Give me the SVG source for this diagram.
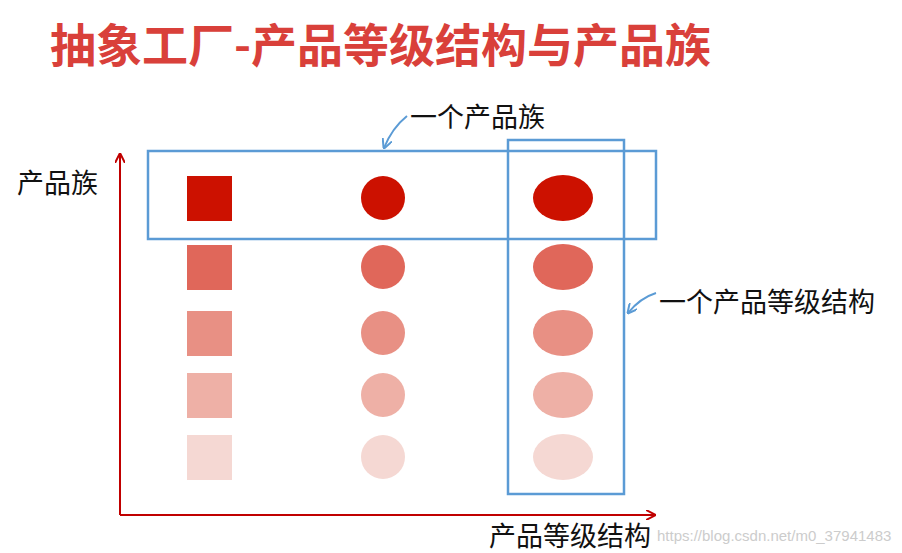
<svg xmlns="http://www.w3.org/2000/svg" width="902" height="553" viewBox="0 0 902 553">
<defs>
<style>
.t{font-family:"Noto Sans CJK SC","Noto Sans",sans-serif;fill:#111;font-size:27px}
.box{fill:none;stroke:#5B9BD5;stroke-width:2.5}
.r1{fill:#CC1100}.r2{fill:#E0675A}.r3{fill:#E89084}.r4{fill:#EEB0A6}.r5{fill:#F5D8D3}
</style>
<marker id="ra" viewBox="0 0 10 10" refX="9" refY="5" markerWidth="5" markerHeight="5" orient="auto"><path d="M0,0 L10,5 L0,10" fill="none" stroke="#C00000" stroke-width="2"/></marker>
<marker id="ba" viewBox="0 0 10 10" refX="9" refY="5" markerWidth="5" markerHeight="5" orient="auto"><path d="M0,0 L10,5 L0,10" fill="none" stroke="#5B9BD5" stroke-width="2"/></marker>
</defs>
<rect width="902" height="553" fill="#fff"/>
<text x="50" y="62" font-family="Noto Sans CJK SC,sans-serif" font-weight="bold" font-size="46" fill="#D9403A">抽象工厂-产品等级结构与产品族</text>
<g id="shapes">
<rect class="r1" x="187" y="176" width="45" height="45"/><circle class="r1" cx="383" cy="198" r="22"/><ellipse class="r1" cx="563" cy="198" rx="30" ry="23"/>
<rect class="r2" x="187" y="245" width="45" height="45"/><circle class="r2" cx="383" cy="267" r="22"/><ellipse class="r2" cx="563" cy="267" rx="30" ry="23"/>
<rect class="r3" x="187" y="311" width="45" height="45"/><circle class="r3" cx="383" cy="333" r="22"/><ellipse class="r3" cx="563" cy="333" rx="30" ry="23"/>
<rect class="r4" x="187" y="373" width="45" height="45"/><circle class="r4" cx="383" cy="395" r="22"/><ellipse class="r4" cx="563" cy="395" rx="30" ry="23"/>
<rect class="r5" x="187" y="435" width="45" height="45"/><circle class="r5" cx="383" cy="457" r="22"/><ellipse class="r5" cx="563" cy="457" rx="30" ry="23"/>
</g>
<g id="family"><rect class="box" x="148" y="151" width="508" height="88"/></g>
<g id="level"><rect class="box" x="508" y="140" width="116" height="354"/></g>
<g id="connectors">
<line x1="120" y1="515" x2="120" y2="154" stroke="#C00000" stroke-width="2" marker-end="url(#ra)"/>
<line x1="120" y1="515" x2="655" y2="515" stroke="#C00000" stroke-width="2" marker-end="url(#ra)"/>
<path d="M407,116 Q392,128 384,148" fill="none" stroke="#5B9BD5" stroke-width="2" marker-end="url(#ba)"/>
<path d="M656,293 Q640,298 628,313" fill="none" stroke="#5B9BD5" stroke-width="2" marker-end="url(#ba)"/>
</g>
<text class="t" x="17" y="193">产品族</text>
<text class="t" x="410" y="127">一个产品族</text>
<text class="t" x="659" y="312">一个产品等级结构</text>
<text class="t" x="489" y="546">产品等级结构</text>
<text x="657" y="541" font-family="Liberation Sans,sans-serif" font-size="15" fill="#ccc">https://blog.csdn.net/m0_37941483</text>
</svg>
